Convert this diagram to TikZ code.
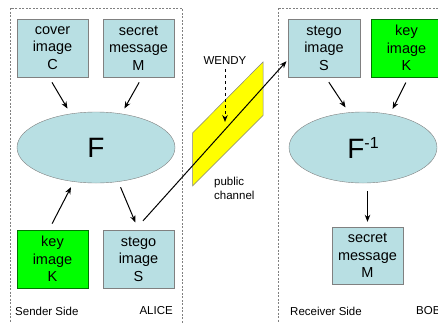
\documentclass[tikz,border=0pt]{standalone}
\usepackage{fontspec}
\setmainfont{Liberation Sans}
\usetikzlibrary{arrows.meta, shapes.geometric}
\definecolor{boxblue}{RGB}{184,223,227}
\definecolor{keygreen}{RGB}{0,255,0}
\definecolor{chanyellow}{RGB}{255,255,0}
\tikzstyle{arrow} = [line width=1pt,-{Stealth[length=7pt,width=5.5pt]}]

\begin{document}
\begin{tikzpicture}[x=1pt, y=-1pt,
	box/.style={draw=gray, fill=boxblue, minimum width=71pt, minimum height=58pt, inner sep=1pt, align=center, font=\fontsize{14.5}{17.5}\selectfont},
	keybox/.style={box, fill=keygreen, draw=green!45!black},
	func/.style={ellipse, draw=gray, fill=boxblue, minimum height=71pt, inner sep=0pt, font=\fontsize{28}{28}\selectfont},
	side/.style={inner sep=0pt, font=\fontsize{11.5}{13.5}\selectfont},
	frame/.style={draw=gray, line width=0.6pt, dash pattern=on 2pt off 1.5pt}
	]
	\useasboundingbox (0,0) rectangle (438,322);
	\clip (0,0) rectangle (438,322);
	
	% sender side
	\draw[frame] (10,8) rectangle (182,340);
	\node[box] (cover) at (52.5,48) {cover\\image\\C};
	\node[box] (msg) at (138.5,48) {secret\\message\\M};
	\node[func, minimum width=158pt] (F) at (96,147.5) {F};
	\node[keybox] (key) at (52.5,259) {key\\image\\K};
	\node[box] (stego) at (138.5,259) {stego\\image\\S};
	\node[side, anchor=west] (sender) at (15,311) {Sender Side};
	\node[side, anchor=east] (alice) at (173,311) {ALICE};
	
	\draw[arrow, shorten <=6pt, shorten >=6pt] (cover.-97) -- (F.127);
	\draw[arrow, shorten <=6pt, shorten >=6pt] (msg.-83) -- (F.53);
	\draw[arrow, shorten <=7pt, shorten >=6pt] (key.97) -- (F.-123);
	\draw[arrow, shorten <=6pt, shorten >=8pt] (F.-57) -- (stego.north);
	
	% public channel
	\fill[chanyellow, draw=gray, line width=0.5pt] (192.5,186) -- (192.5,133) -- (263,62) -- (263,115.5) -- cycle;
	\node[side] (wendy) at (225,61) {WENDY};
	\coordinate (tap) at (225,122);
	\draw[arrow, dashed, shorten <=4pt] (wendy.south) -- (tap);
	\node[side, anchor=north west, align=left] (chan) at (214,177) {public\\channel};
	
	% receiver side
	\draw[frame] (278,8) rectangle (460,340);
	\node[box, minimum width=72pt] (rstego) at (324,48) {stego\\image\\S};
	\node[keybox] (rkey) at (406.5,48) {key\\image\\K};
	\node[func, minimum width=148pt] (Finv) at (363,147.5) {F\raisebox{10pt}{\fontsize{16}{16}\selectfont -1}};
	\node[box, minimum height=57pt] (rmsg) at (367.5,255.5) {secret\\message\\M};
	\node[side, anchor=west] (receiver) at (290,311) {Receiver Side};
	\node[side, anchor=west] (bob) at (416,311) {BOB};
	
	\draw[arrow, shorten <=12pt, shorten >=2pt] (stego.97) -- (rstego.-162);
	\draw[arrow, shorten <=6pt, shorten >=6pt] (rstego.-87) -- (Finv.112);
	\draw[arrow, shorten <=6pt, shorten >=6pt] (rkey.-86) -- (Finv.51);
	\draw[arrow, shorten <=8pt, shorten >=5pt] (Finv.south -| rmsg.north) -- (rmsg.north);
\end{tikzpicture}
\end{document}
